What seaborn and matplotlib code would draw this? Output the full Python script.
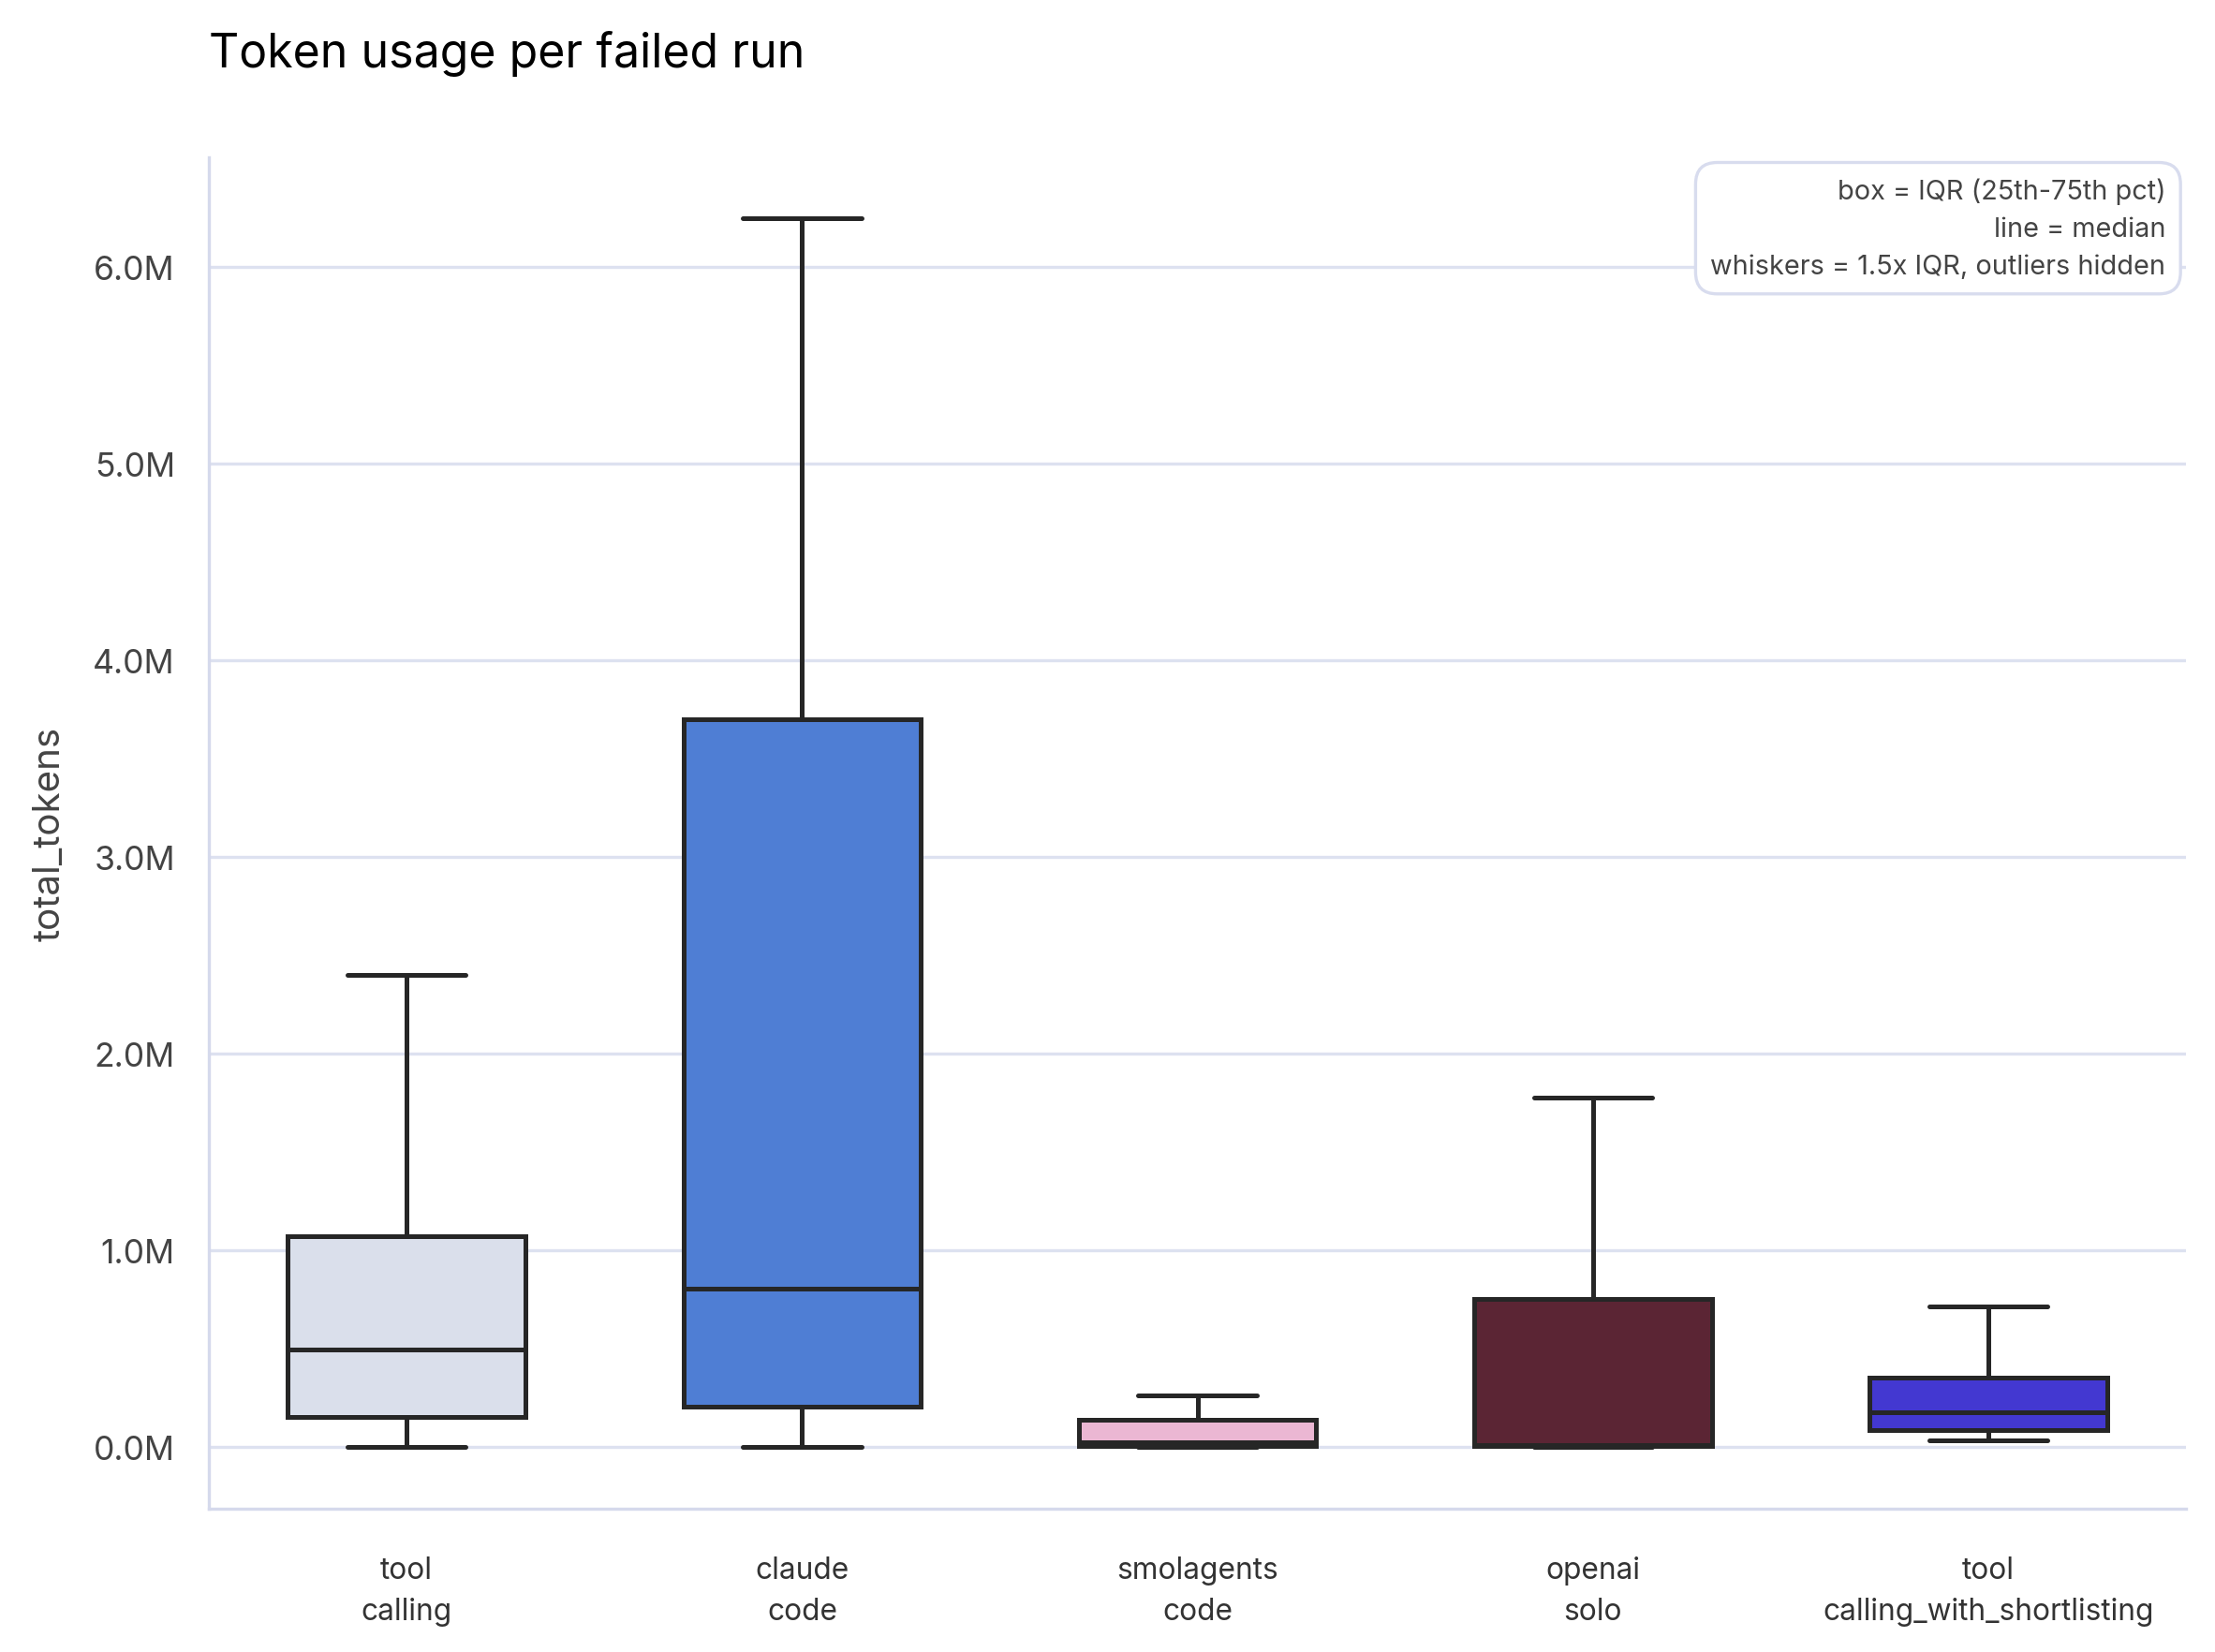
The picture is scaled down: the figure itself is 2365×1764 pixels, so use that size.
import pandas as pd
import numpy as np
import matplotlib.pyplot as plt
import seaborn as sns
from matplotlib.ticker import FuncFormatter

# valores: [min, q1, mediana, q3, max] en millones de tokens
agents = ["tool\ncalling", "claude\ncode", "smolagents\ncode", "openai\nsolo",
          "tool\ncalling_with_shortlisting"]
tool_calling = [0.0, 0.151, 0.496, 1.07, 2.40]
claude_code = [0.0, 0.208, 0.805, 3.70, 6.244]
smolagents_code = [0.0, 0.005, 0.025, 0.141, 0.262]
openai_solo = [0.0, 0.004, 0.012, 0.753, 1.775]
tool_shortlisting = [0.033, 0.086, 0.176, 0.353, 0.715]
colors = ["#dadfeb", "#4f7ed4", "#ebb7d3", "#5b2534", "#4338d1"]
yticks = [0, 1, 2, 3, 4, 5, 6]

series = [tool_calling, claude_code, smolagents_code, openai_solo, tool_shortlisting]
df = pd.DataFrame({
    "agent": np.repeat(agents, [len(s) for s in series]),
    "total_tokens": np.concatenate(series) * 1e6,
})

sns.set_theme(style="white")
plt.rcParams["font.family"] = ["Inter", "DejaVu Sans"]

fig = plt.figure(figsize=(11.825, 8.825), dpi=200)
ax = fig.add_axes([0.0943, 0.0868, 0.8927, 0.8176])

sns.boxplot(data=df, x="agent", y="total_tokens", hue="agent", order=agents,
            hue_order=agents, palette=colors, saturation=1, showfliers=False,
            width=0.6, linewidth=1.8, linecolor="#262626", legend=False, ax=ax)

ax.set_yticks([v * 1e6 for v in yticks])
ax.yaxis.set_major_formatter(FuncFormatter(lambda v, p: f"{v / 1e6:.1f}M"))
ax.tick_params(axis="y", length=0, pad=13, labelsize=12.8, labelcolor="#444444")
ax.tick_params(axis="x", length=0, pad=18, labelsize=11.4, labelcolor="#333333")
for lab in ax.get_xticklabels():
    lab.set_linespacing(1.56)

ax.set_xlabel("")
ax.set_ylabel("total_tokens", fontsize=14.5, color="#444444", labelpad=10)

ax.yaxis.grid(True, color="#dde1f0", linewidth=1.2)
ax.set_axisbelow(True)
for side in ["top", "right"]:
    ax.spines[side].set_visible(False)
for side in ["left", "bottom"]:
    ax.spines[side].set_color("#d5d9ec")
    ax.spines[side].set_linewidth(1.2)

fig.text(0.0943, 1 - 57 / 1765, "Token usage per failed run", fontsize=18,
         color="black", ha="left", va="center")

ax.text(0.9896, 0.985,
        "box = IQR (25th-75th pct)\nline = median\nwhiskers = 1.5x IQR, outliers hidden",
        transform=ax.transAxes, ha="right", va="top", multialignment="right",
        fontsize=10.4, color="#444444", linespacing=1.62,
        bbox=dict(boxstyle="round,pad=0.55,rounding_size=0.8", fc="white",
                  ec="#d8dcee", lw=1.2))

fig.savefig("out.png", dpi=200)
